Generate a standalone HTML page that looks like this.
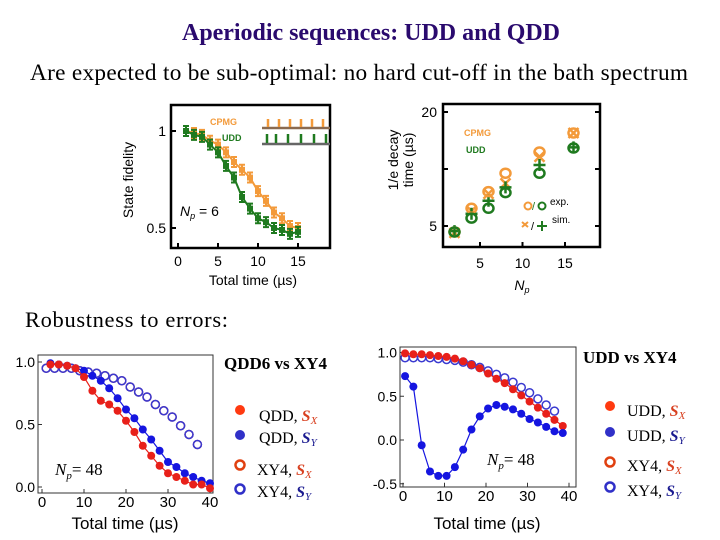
<!DOCTYPE html>
<html><head><meta charset="utf-8"><style>
html,body{margin:0;padding:0;background:#fff;width:720px;height:540px;overflow:hidden}
svg{display:block}
text{font-family:"Liberation Sans",sans-serif}
.serif{font-family:"Liberation Serif",serif}
</style></head><body>
<svg id="s" width="720" height="540" viewBox="0 0 720 540">
<text class="serif" x="371" y="40" text-anchor="middle" font-size="24" font-weight="bold" fill="#2a0a6e" textLength="378">Aperiodic sequences: UDD and QDD</text>
<text class="serif" x="359" y="80" text-anchor="middle" font-size="23.3" fill="#000" textLength="658">Are expected to be sub-optimal: no hard cut-off in the bath spectrum</text>
<text class="serif" x="25" y="327" font-size="22.5" fill="#000" textLength="203">Robustness to errors:</text>

<g>
<rect x="171" y="105" width="159" height="143" fill="none" stroke="#000" stroke-width="2.5"/>
<text x="133" y="180" font-size="14" text-anchor="middle" transform="rotate(-90 133 180)">State fidelity</text>
<text x="253" y="285" font-size="14" text-anchor="middle">Total time (µs)</text>
<text x="210" y="125" font-size="9" font-weight="bold" fill="#f39a3a">CPMG</text>
<text x="222" y="141" font-size="9" font-weight="bold" fill="#1f7a1f">UDD</text>
<text x="180" y="216" font-size="14"><tspan font-style="italic">N</tspan><tspan font-style="italic" font-size="9" dy="3">p</tspan><tspan dy="-3"> = 6</tspan></text>
<g id="pulses"></g>
</g>
<g id="c1"></g>

<g>
<rect x="443" y="104" width="157" height="143" fill="none" stroke="#000" stroke-width="2.5"/>
<text x="398" y="160" font-size="14" text-anchor="middle" transform="rotate(-90 398 160)">1/e decay</text>
<text x="413" y="160" font-size="14" text-anchor="middle" transform="rotate(-90 413 160)">time (µs)</text>
<text x="522" y="290" font-size="14" font-style="italic" text-anchor="middle">N<tspan font-size="9" dy="3">p</tspan></text>
<text x="464" y="136" font-size="9" font-weight="bold" fill="#f39a3a">CPMG</text>
<text x="466" y="153" font-size="9" font-weight="bold" fill="#1f7a1f">UDD</text>
<circle cx="528" cy="206" r="3.5" fill="none" stroke="#f39a3a" stroke-width="2"/>
<text x="532" y="210" font-size="11" fill="#1f7a1f">/</text>
<circle cx="542" cy="206" r="3.5" fill="none" stroke="#1f7a1f" stroke-width="2"/>
<text x="550" y="205" font-size="10">exp.</text>
<path d="M522 222l6 5M528 222l-6 5" stroke="#f39a3a" stroke-width="2"/>
<text x="531" y="230" font-size="11">/</text>
<path d="M537 226h10M542 221v10" stroke="#1f7a1f" stroke-width="2"/>
<text x="552" y="223" font-size="10">sim.</text>
</g>
<g id="c2"></g>

<g>
<rect x="38" y="355" width="175" height="138" fill="none" stroke="#333" stroke-width="1"/>
<text x="125" y="529" font-size="17" text-anchor="middle">Total time (µs)</text>
<text class="serif" x="55" y="475" font-size="17"><tspan font-style="italic">N</tspan><tspan font-style="italic" font-size="11" dy="4">p</tspan><tspan dy="-4">= 48</tspan></text>
<text class="serif" x="224" y="369" font-size="17" font-weight="bold">QDD6 vs XY4</text>
<circle cx="240" cy="410" r="5" fill="#ff3a10"/>
<text class="serif" x="259" y="421" font-size="16">QDD, <tspan fill="#d84020" font-weight="bold" font-style="italic">S</tspan><tspan fill="#d84020" font-style="italic" font-size="11" dy="3">X</tspan></text>
<circle cx="240" cy="435" r="5" fill="#3030c8"/>
<text class="serif" x="259" y="443" font-size="16">QDD, <tspan fill="#1a1a90" font-weight="bold" font-style="italic">S</tspan><tspan fill="#1a1a90" font-style="italic" font-size="11" dy="3">Y</tspan></text>
<circle cx="240" cy="465" r="4.5" fill="none" stroke="#e04010" stroke-width="2.5"/>
<text class="serif" x="257" y="475" font-size="16">XY4, <tspan fill="#d84020" font-weight="bold" font-style="italic">S</tspan><tspan fill="#d84020" font-style="italic" font-size="11" dy="3">X</tspan></text>
<circle cx="240" cy="489" r="4.5" fill="none" stroke="#3030c8" stroke-width="2.5"/>
<text class="serif" x="257" y="497" font-size="16">XY4, <tspan fill="#1a1a90" font-weight="bold" font-style="italic">S</tspan><tspan fill="#1a1a90" font-style="italic" font-size="11" dy="3">Y</tspan></text>
</g>
<g id="c3"></g>

<g>
<rect x="400" y="347" width="176" height="140" fill="none" stroke="#333" stroke-width="1"/>
<text x="487" y="529" font-size="17" text-anchor="middle">Total time (µs)</text>
<text class="serif" x="487" y="465" font-size="17"><tspan font-style="italic">N</tspan><tspan font-style="italic" font-size="11" dy="4">p</tspan><tspan dy="-4">= 48</tspan></text>
<text class="serif" x="583" y="363" font-size="17" font-weight="bold">UDD vs XY4</text>
<circle cx="610" cy="406" r="5" fill="#ff3a10"/>
<text class="serif" x="627" y="416" font-size="16">UDD, <tspan fill="#d84020" font-weight="bold" font-style="italic">S</tspan><tspan fill="#d84020" font-style="italic" font-size="11" dy="3">X</tspan></text>
<circle cx="610" cy="432" r="5" fill="#3030c8"/>
<text class="serif" x="627" y="441" font-size="16">UDD, <tspan fill="#1a1a90" font-weight="bold" font-style="italic">S</tspan><tspan fill="#1a1a90" font-style="italic" font-size="11" dy="3">Y</tspan></text>
<circle cx="610" cy="462" r="4.5" fill="none" stroke="#e04010" stroke-width="2.5"/>
<text class="serif" x="627" y="471" font-size="16">XY4, <tspan fill="#d84020" font-weight="bold" font-style="italic">S</tspan><tspan fill="#d84020" font-style="italic" font-size="11" dy="3">X</tspan></text>
<circle cx="610" cy="487" r="4.5" fill="none" stroke="#3030c8" stroke-width="2.5"/>
<text class="serif" x="627" y="496" font-size="16">XY4, <tspan fill="#1a1a90" font-weight="bold" font-style="italic">S</tspan><tspan fill="#1a1a90" font-style="italic" font-size="11" dy="3">Y</tspan></text>
</g>
<g id="c4"></g>
</svg>
<script>
const c1Times = [1,2,3,4,5,6,7,8,9,10,11,12,13,14,15];
const c1Cpmg = [1.0,0.99,0.98,0.95,0.93,0.89,0.84,0.80,0.76,0.69,0.64,0.58,0.55,0.51,0.50];
const c1Udd = [1.0,0.98,0.97,0.93,0.89,0.82,0.76,0.66,0.60,0.55,0.53,0.50,0.49,0.47,0.48];
const c1XTicks = [0,5,10,15];
const c1YTicks = [1,0.5];
const c2Np = [2,4,6,8,12,16];
const c2CpmgExp = [4.65,6.2,7.6,9.5,12.3,15.5];
const c2UddExp = [4.65,5.5,6.2,7.5,9.5,12.9];
const c2CpmgSim = [4.6,6.0,7.4,8.4,11.6,15.5];
const c2UddSim = [4.7,5.8,6.8,8.0,10.5,13.0];
const c2XTicks = [5,10,15];
const c2YTicks = [20,10,5];
const c2YLabels = ["20","","5"];
const c3TFilled = [2,4,6,8,10,12,14,16,18,20,22,24,26,28,30,32,34,36,38,40];
const c3QddSx = [0.98,0.98,0.97,0.95,0.88,0.77,0.69,0.66,0.61,0.53,0.44,0.33,0.25,0.17,0.11,0.08,0.05,0.02,0.02,-0.01];
const c3QddSy = [0.99,0.98,0.97,0.95,0.93,0.89,0.85,0.79,0.71,0.62,0.55,0.46,0.38,0.29,0.20,0.16,0.11,0.08,0.05,0.03];
const c3TOpen = [1,3,5,7,9,11,13,15,17,19,21,23,25,27,29,31,33,35,37];
const c3Xy4 = [0.95,0.95,0.95,0.95,0.93,0.92,0.91,0.89,0.87,0.85,0.80,0.76,0.72,0.66,0.61,0.56,0.49,0.42,0.34];
const c3XTicks = [0,10,20,30,40];
const c3YTicks = [1.0,0.5,0.0];
const c4T = [0.5,2.5,4.5,6.5,8.5,10.5,12.5,14.5,16.5,18.5,20.5,22.5,24.5,26.5,28.5,30.5,32.5,34.5,36.5,38.5];
const c4UddSx = [0.99,0.98,0.98,0.97,0.96,0.95,0.93,0.90,0.86,0.82,0.76,0.70,0.65,0.58,0.51,0.44,0.37,0.30,0.23,0.16];
const c4UddSy = [0.73,0.61,-0.06,-0.36,-0.41,-0.41,-0.31,-0.11,0.12,0.27,0.36,0.40,0.38,0.35,0.30,0.24,0.20,0.15,0.10,0.08];
const c4TOpen = [0.5,2.5,4.5,6.5,8.5,10.5,12.5,14.5,16.5,18.5,20.5,22.5,24.5,26.5,28.5,30.5,32.5,34.5,36.5];
const c4Xy4 = [0.94,0.94,0.94,0.94,0.93,0.92,0.91,0.89,0.86,0.83,0.79,0.75,0.71,0.66,0.60,0.54,0.47,0.40,0.33];
const c4XTicks = [0,10,20,30,40];
const c4YTicks = [1.0,0.5,0.0,-0.5];

const NS='http://www.w3.org/2000/svg';
function mk(p,tag,a){const e=document.createElementNS(NS,tag);for(const k in a)e.setAttribute(k,a[k]);p.appendChild(e);return e;}
function fmt1(v){return v.toFixed(1);}

(function(){
const g=document.getElementById('c1');
const x=t=>178+t*8, y=v=>131+(1-v)*194;
c1XTicks.forEach(t=>{const l=mk(g,'line',{x1:x(t),x2:x(t),y1:248,y2:243,stroke:'#000','stroke-width':2});


const tx=mk(g,'text',{x:x(t),y:266,'font-size':14,'text-anchor':'middle'});tx.textContent=t;

});
c1YTicks.forEach(v=>{const l=mk(g,'line',{x1:171,x2:176,y1:y(v),y2:y(v),stroke:'#000','stroke-width':2});


const tx=mk(g,'text',{x:166,y:y(v)+5,'font-size':14,'text-anchor':'end'});tx.textContent=v;

});
[[c1Cpmg,'#f39a3a','cpmg'],[c1Udd,'#1f7a1f','udd']].forEach(([d,c,n])=>{
const pts=c1Times.map((t,i)=>x(t)+','+y(d[i])).join(' ');
const pl=mk(g,'polyline',{points:pts,fill:'none',stroke:c,'stroke-width':2,'stroke-linejoin':'round'});


c1Times.forEach((t,i)=>{const cx=x(t),cy=y(d[i]);
const p=mk(g,'path',{d:`M${cx} ${cy-5}v10M${cx-3} ${cy-5}h6M${cx-3} ${cy+5}h6`,stroke:c,'stroke-width':2,fill:'none'});


const m=mk(g,'rect',{x:cx-3,y:cy-3,width:6,height:6,fill:c});

});
});
const pg=document.getElementById('pulses');
mk(pg,'line',{x1:262,x2:330,y1:128,y2:128,stroke:'#8a6a50','stroke-width':2.5});
mk(pg,'line',{x1:262,x2:330,y1:144,y2:144,stroke:'#666','stroke-width':2.5});
[268,279,290,301,312,323].forEach(px=>mk(pg,'line',{x1:px,x2:px,y1:119,y2:127,stroke:'#f39a3a','stroke-width':2.5}));
[267,276,288,301,314,326].forEach(px=>mk(pg,'line',{x1:px,x2:px,y1:134,y2:143,stroke:'#1f7a1f','stroke-width':2.5}));
})();

(function(){
const g=document.getElementById('c2');
const x=n=>437.5+n*8.5, y=v=>226-Math.log(v/5)/Math.log(4)*114;
c2XTicks.forEach(t=>{const l=mk(g,'line',{x1:x(t),x2:x(t),y1:247,y2:242,stroke:'#000','stroke-width':2});


const tx=mk(g,'text',{x:x(t),y:268,'font-size':14,'text-anchor':'middle'});tx.textContent=t;

});
c2YTicks.forEach((v,i)=>{const l=mk(g,'line',{x1:443,x2:448,y1:y(v),y2:y(v),stroke:'#000','stroke-width':2});


const r=mk(g,'line',{x1:595,x2:600,y1:y(v),y2:y(v),stroke:'#000','stroke-width':2});


const tx=mk(g,'text',{x:437,y:y(v)+5,'font-size':14,'text-anchor':'end'});tx.textContent=c2YLabels[i];

});
c2Np.forEach((n,i)=>{
let cx=x(n);
let e=mk(g,'path',{d:`M${cx-5} ${y(c2CpmgSim[i])-5}l10 10M${cx+5} ${y(c2CpmgSim[i])-5}l-10 10`,stroke:'#f39a3a','stroke-width':2.5});


e=mk(g,'path',{d:`M${cx-6} ${y(c2UddSim[i])}h12M${cx} ${y(c2UddSim[i])-6}v12`,stroke:'#1f7a1f','stroke-width':2.5});


e=mk(g,'ellipse',{cx:cx,cy:y(c2CpmgExp[i]),rx:5,ry:4.5,fill:'none',stroke:'#f39a3a','stroke-width':2.5});


e=mk(g,'ellipse',{cx:cx,cy:y(c2UddExp[i]),rx:5,ry:4.5,fill:'none',stroke:'#1f7a1f','stroke-width':2.5});


});
})();

function bottom(id,x,y,xt,yt,x0,x1,series){
const g=document.getElementById(id);
const yb=y(yt[yt.length-1])+(id==='c3'?6:3);
xt.forEach(t=>{const l=mk(g,'line',{x1:x(t),x2:x(t),y1:yb,y2:yb-4,stroke:'#333'});


const tx=mk(g,'text',{x:x(t),y:yb+14,'font-size':15,'text-anchor':'middle'});tx.textContent=t;

});
yt.forEach(v=>{const l=mk(g,'line',{x1:x0,x2:x0+4,y1:y(v),y2:y(v),stroke:'#333'});


const tx=mk(g,'text',{x:x0-3,y:y(v)+5,'font-size':14,'text-anchor':'end'});tx.textContent=fmt1(v);

});
series.forEach(([ts,d,c,open,line,n])=>{
if(line){const pl=mk(g,'polyline',{points:ts.map((t,i)=>x(t)+','+y(d[i])).join(' '),fill:'none',stroke:c,'stroke-width':1.2});

}
ts.forEach((t,i)=>{const m=mk(g,'circle',open?{cx:x(t),cy:y(d[i]),r:4,fill:'none',stroke:c,'stroke-width':1.5}:{cx:x(t),cy:y(d[i]),r:4,fill:c});

});
});
}
bottom('c3',t=>42+t*4.2,v=>487-v*125,c3XTicks,c3YTicks,38,213,[
[c3TOpen,c3Xy4,'#b03060',true,false,'xy4-sx'],
[c3TOpen,c3Xy4,'#3a3ad0',true,false,'xy4-sy'],
[c3TFilled,c3QddSy,'#1515e0',false,true,'qdd-sy'],
[c3TFilled,c3QddSx,'#e8201a',false,true,'qdd-sx']]);
bottom('c4',t=>403+t*4.15,v=>440-v*87.5,c4XTicks,c4YTicks,400,576,[
[c4TOpen,c4Xy4,'#3a3ad0',true,false,'xy4'],
[c4T,c4UddSx,'#e8201a',false,true,'udd-sx'],
[c4T,c4UddSy,'#1515e0',false,true,'udd-sy']]);
</script>
</body></html>
